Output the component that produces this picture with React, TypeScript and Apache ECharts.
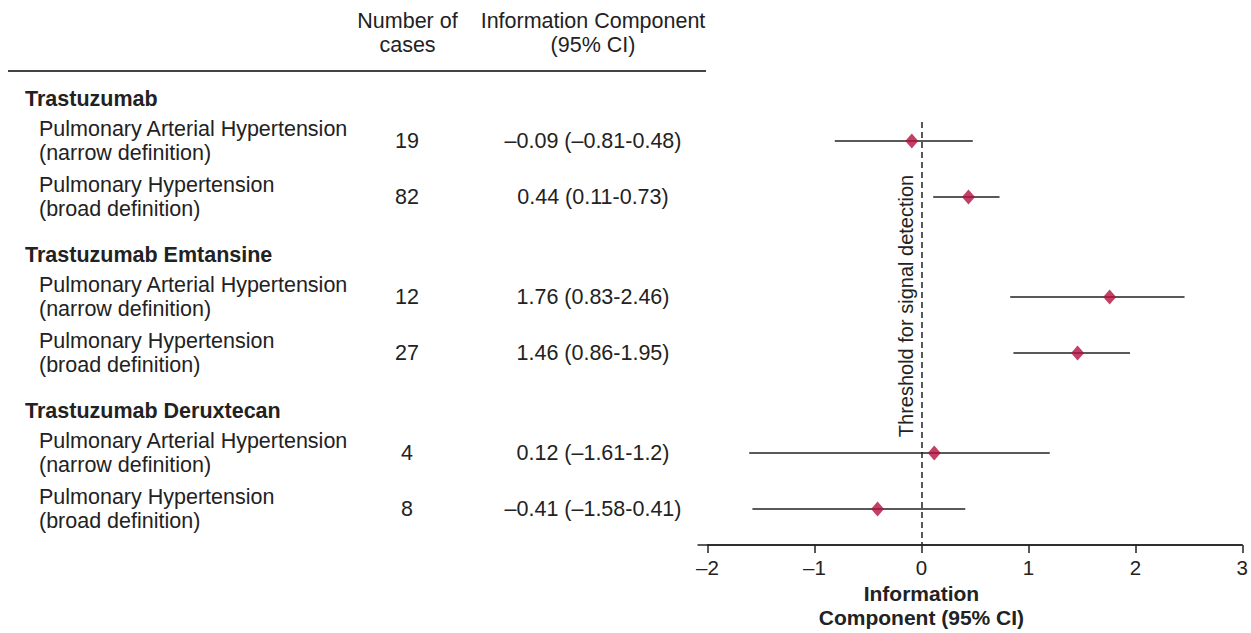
import React, { useEffect, useRef } from "react";
import * as echarts from "echarts";

// ---- data ----
const groups = ["Trastuzumab", "Trastuzumab Emtansine", "Trastuzumab Deruxtecan"];
const rowLabels = [
  "Pulmonary Arterial Hypertension\n(narrow definition)",
  "Pulmonary Hypertension\n(broad definition)",
  "Pulmonary Arterial Hypertension\n(narrow definition)",
  "Pulmonary Hypertension\n(broad definition)",
  "Pulmonary Arterial Hypertension\n(narrow definition)",
  "Pulmonary Hypertension\n(broad definition)",
];
const rowGroup = [0, 0, 1, 1, 2, 2];
const cases = [19, 82, 12, 27, 4, 8];
const estimates = [-0.09, 0.44, 1.76, 1.46, 0.12, -0.41];
const lower = [-0.81, 0.11, 0.83, 0.86, -1.61, -1.58];
const upper = [0.48, 0.73, 2.46, 1.95, 1.2, 0.41];
const xMin = -2;
const xMax = 3;
const xInterval = 1;
const threshold = 0;

// ---- layout (row units on the y value axis) ----
const GROUP_STEP = 156 / 56;
const HEADER_OFFSET = 42 / 56;
const FONT = "'Liberation Sans', Arial, Helvetica, sans-serif";
const INK = "#222";
const MARK = "#b3103f";

const dash = (s: string) => s.replace(/-/g, "–");
const fmt = (v: number) => dash(String(v));

function rowPos(i: number): number {
  let inGroup = 0;
  for (let j = 0; j < i; j++) if (rowGroup[j] === rowGroup[i]) inGroup++;
  return rowGroup[i] * GROUP_STEP + inGroup;
}

export default function App() {
  const ref = useRef<HTMLDivElement>(null);
  useEffect(() => {
    if (!ref.current) return;
    const chart = echarts.init(ref.current, undefined, { renderer: "svg" });
    const yData = estimates.map((_, i) => rowPos(i));
    chart.setOption({
      animation: false,
      textStyle: { fontFamily: FONT },
      grid: { left: 707.5, right: 6, top: 122, bottom: 88 },
      xAxis: {
        type: "value",
        min: xMin,
        max: xMax,
        interval: xInterval,
        splitLine: { show: false },
        axisLine: { show: true, onZero: false, lineStyle: { color: INK, width: 1.5 } },
        axisTick: { show: true, inside: false, length: 8, lineStyle: { color: INK, width: 1.5 } },
        axisLabel: {
          color: INK,
          fontSize: 20.5,
          fontFamily: FONT,
          margin: 12,
          formatter: (v: number) => fmt(v),
        },
      },
      yAxis: {
        type: "value",
        inverse: true,
        min: -19 / 56,
        max: 404 / 56,
        show: false,
        splitLine: { show: false },
      },
      series: [
        {
          type: "custom",
          z: 2,
          data: yData.map((y, i) => [y, lower[i], upper[i]]),
          encode: { x: [1, 2], y: 0 },
          renderItem: (params: any, api: any) => {
            const a = api.coord([api.value(1), api.value(0)]);
            const b = api.coord([api.value(2), api.value(0)]);
            return {
              type: "line",
              shape: { x1: a[0], y1: a[1], x2: b[0], y2: b[1] },
              style: { stroke: INK, lineWidth: 1.5 },
            };
          },
        },
        {
          type: "scatter",
          z: 3,
          symbol: "diamond",
          symbolSize: [13, 15],
          itemStyle: { color: MARK },
          data: estimates.map((e, i) => [e, yData[i]]),
          markLine: {
            silent: true,
            symbol: "none",
            label: { show: false },
            lineStyle: { color: INK, width: 1.5, type: [6, 4] },
            data: [{ xAxis: threshold }],
          },
        },
      ],
    });

    const px = (x: number, y: number) => chart.convertToPixel({ gridIndex: 0 }, [x, y]) as number[];
    const x0 = px(threshold, 0)[0];
    const xLeft = px(xMin, 0)[0];
    const xRight = px(xMax, 0)[0];
    const axisY = px(xMin, 404 / 56)[1];

    const txt = (
      x: number,
      y: number,
      text: string,
      opts: { align?: string; bold?: boolean; size?: number; lh?: number; rotation?: number } = {}
    ) => ({
      type: "text",
      x,
      y,
      rotation: opts.rotation || 0,
      style: {
        text,
        fill: INK,
        fontFamily: FONT,
        fontSize: opts.size || 21.5,
        fontWeight: opts.bold ? "bold" : "normal",
        lineHeight: opts.lh || 24,
        align: opts.align || "left",
        verticalAlign: "middle",
      },
    });

    const graphics: any[] = [];
    // table header
    graphics.push(txt(407.5, 33, "Number of\ncases", { align: "center" }));
    graphics.push(txt(593, 33, "Information Component\n(95% CI)", { align: "center" }));
    graphics.push({
      type: "line",
      shape: { x1: 8, y1: 71, x2: 706, y2: 71 },
      style: { stroke: "#444", lineWidth: 2 },
    });
    // group headers
    groups.forEach((g, gi) => {
      const first = rowGroup.indexOf(gi);
      const y = px(0, rowPos(first) - HEADER_OFFSET)[1];
      graphics.push(txt(25, y, g, { bold: true }));
    });
    // rows
    rowLabels.forEach((label, i) => {
      const y = px(0, rowPos(i))[1];
      graphics.push(txt(39, y, label));
      graphics.push(txt(407, y, String(cases[i]), { align: "center" }));
      graphics.push(
        txt(593, y, `${fmt(estimates[i])} (${fmt(lower[i])}-${fmt(upper[i])})`, { align: "center" })
      );
    });
    // axis line extension to the left
    graphics.push({
      type: "line",
      shape: { x1: xLeft - 10, y1: axisY, x2: xRight, y2: axisY },
      style: { stroke: INK, lineWidth: 1.5 },
    });
    // axis title
    graphics.push(txt(x0, 605, "Information\nComponent (95% CI)", { align: "center", bold: true, lh: 24, size: 21 }));
    // threshold label
    graphics.push(
      txt(x0 - 15, 306, "Threshold for signal detection", {
        align: "center",
        size: 20,
        rotation: Math.PI / 2,
      })
    );
    chart.setOption({ graphic: graphics });

    return () => chart.dispose();
  }, []);
  return (
    <div
      ref={ref}
      style={{ position: "absolute", left: 0, top: 0, width: 1251, height: 633 }}
    />
  );
}
